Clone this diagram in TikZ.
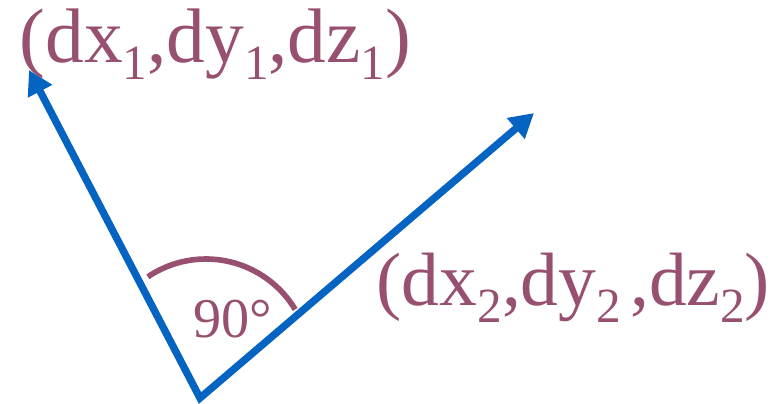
\documentclass[tikz,border=0pt]{standalone}
\usepackage{fontspec}
\setmainfont{Liberation Serif}
\usetikzlibrary{arrows.meta}
\definecolor{vecblue}{RGB}{5,99,193}
\definecolor{labelpurple}{RGB}{152,80,112}
\newcommand{\sbs}[1]{\raisebox{-5pt}{\fontsize{14}{14}\selectfont #1}}

\begin{document}
\begin{tikzpicture}
	\useasboundingbox (0,0) rectangle (7.8,4.03);
	\coordinate (o) at (2.00,0.05);
	\coordinate (t1) at (0.29,3.33);
	\coordinate (t2) at (5.34,2.90);
	\coordinate (c) at (2.06,0.40);
	
	\draw[vecblue, line width=2.1pt, {Triangle[length=0.24cm,width=0.26cm]}-{Triangle[length=0.24cm,width=0.26cm]}] (t1) -- (o) -- (t2);
	\draw[labelpurple, line width=1.6pt] ([shift={(124:1.04)}]c) arc[start angle=124, end angle=31, radius=1.04];
	
	\node[labelpurple, anchor=base west, inner sep=0pt, font=\fontsize{22}{22}\selectfont] (v1) at (0.19,3.41) {(dx\sbs{1},dy\sbs{1},dz\sbs{1})};
	\node[labelpurple, anchor=base west, inner sep=0pt, font=\fontsize{21.5}{22}\selectfont] (v2) at (3.76,0.98) {(dx\sbs{2},dy\sbs{2}\hspace{0.12em},dz\sbs{2})};
	\node[labelpurple, anchor=base west, inner sep=0pt, font=\fontsize{16}{16}\selectfont] (ang) at (1.93,0.66) {90°};
\end{tikzpicture}
\end{document}
